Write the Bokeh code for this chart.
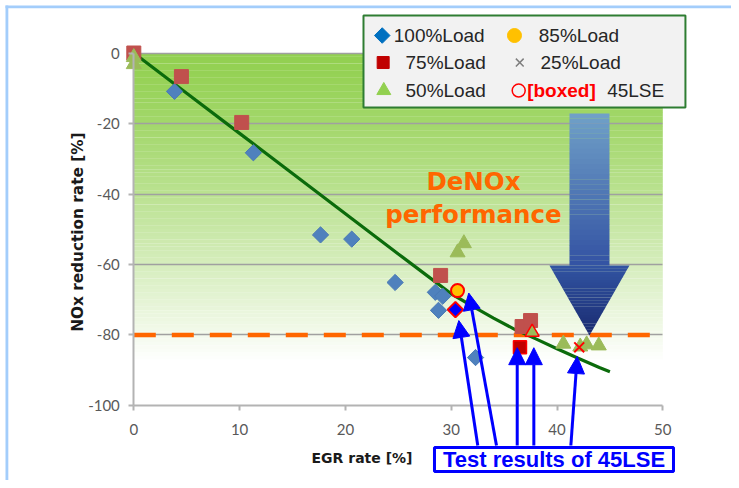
from bokeh.plotting import figure
from bokeh.models import Arrow, NormalHead, FixedTicker, ColumnDataSource, Range1d
from bokeh.core.properties import value
from bokeh.embed import file_html
from bokeh.resources import INLINE
import math

# ---------------- data ----------------
load100_x = [3.85, 11.3, 17.65, 20.6, 24.7, 28.5, 29.2, 28.8, 32.3]
load100_y = [-10.9, -28.3, -51.6, -52.8, -65.1, -67.9, -69.0, -73.0, -86.4]

load75_x = [0.0, 4.5, 10.2, 29.0, 36.7, 37.5]
load75_y = [0.0, -6.7, -19.7, -63.1, -77.6, -75.9]

load50_x = [0.0, 0.0, 31.2, 30.6, 40.6, 42.2, 42.8, 43.95]
load50_y = [-1.2, -3.2, -54.0, -56.6, -82.5, -83.3, -82.7, -83.0]

# 45LSE test results (highlighted)
lse100_x, lse100_y = [30.4], [-72.8]
lse85_x, lse85_y = [30.6], [-67.4]
lse75_x, lse75_y = [36.5], [-83.5]
lse50_x, lse50_y = [37.65], [-79.2]
lse25_x, lse25_y = [42.1], [-83.5]

trend_x = [0, 5, 10, 15, 20, 25, 28, 30, 32, 34, 36, 38, 40, 42, 44, 45]
trend_y = [0, -11.4, -22.8, -34.2, -45.6, -57.0, -63.8, -68.3, -71.8, -75.2,
           -78.4, -81.1, -83.9, -86.6, -89.2, -90.4]

target_level = -80
target_x = [0, 49]

x_ticks = [0, 10, 20, 30, 40, 50]
y_ticks = [0, -20, -40, -60, -80, -100]
x_tick_labels = {0: "0", 10: "10", 20: "20", 30: "30", 40: "40", 50: "50"}
y_tick_labels = {0: "0", -20: "-20", -40: "-40", -60: "-60", -80: "-80", -100: "-100"}

# arrows from the "Test results" box to the 45LSE points
arrow_x0 = [32.51, 34.28, 36.24, 37.81, 41.31]
arrow_y0 = [-111.35] * 5
arrow_x1 = [30.72, 31.66, 36.24, 37.81, 41.91]
arrow_y1 = [-75.9, -68.1, -83.6, -83.6, -86.1]

# ---------------- figure ----------------
# frame covers whole canvas; axes are placed at fixed data locations
X0, X1 = -12.599, 56.493
Y0, Y1 = -121.277, 14.894
p = figure(frame_width=731, frame_height=480,
           min_border_left=0, min_border_right=0,
           min_border_top=0, min_border_bottom=0,
           x_range=Range1d(X0, X1), y_range=Range1d(Y0, Y1),
           output_backend="svg", toolbar_location=None)
p.title.visible = False
p.outline_line_color = None
p.background_fill_color = "white"
p.border_fill_color = "white"

# light-blue page border (left and top)
p.quad(left=[-12.127], right=[-11.86], top=[13.475], bottom=[Y0],
       fill_color="#a3cdfb", line_color=None)
p.quad(left=[-12.127], right=[X1], top=[13.475], bottom=[12.70],
       fill_color="#a3cdfb", line_color=None)

# gradient background of plot area (0 .. 50, 0 .. -88 fading to white)
top_c = (146, 208, 80)
n_bands = 88
bl, br, bt, bb, bc = [], [], [], [], []
for i in range(n_bands):
    t = (i / (n_bands - 1)) ** 1.25
    c = tuple(int(round(top_c[k] + (255 - top_c[k]) * t)) for k in range(3))
    bl.append(0)
    br.append(50)
    bt.append(-i * 1.0 + (0.05 if i > 0 else 0))
    bb.append(-(i + 1) * 1.0)
    bc.append("#%02x%02x%02x" % c)
bg = p.quad(left=bl, right=br, top=bt, bottom=bb, fill_color=bc, line_color=None)
bg.level = "image"

# axes
p.xaxis.fixed_location = -100
p.yaxis.fixed_location = 0
p.xaxis.ticker = FixedTicker(ticks=x_ticks)
p.yaxis.ticker = FixedTicker(ticks=y_ticks)
p.xaxis.major_label_overrides = x_tick_labels
p.yaxis.major_label_overrides = y_tick_labels
p.xaxis.bounds = (0, 50)
p.yaxis.bounds = (-100, 0)
for ax in (p.xaxis, p.yaxis):
    ax.axis_line_color = "#b3b3b3"
    ax.axis_line_width = 2
    ax.major_tick_line_color = "#b3b3b3"
    ax.major_tick_line_width = 2
    ax.major_tick_out = 5
    ax.major_tick_in = 0
    ax.minor_tick_line_color = None
    ax.major_label_text_font = "Lato"
    ax.major_label_text_font_size = "15px"
    ax.major_label_text_color = "#595959"
p.xaxis.major_label_standoff = 14
p.yaxis.major_label_standoff = 9
p.xgrid.visible = False
p.ygrid.ticker = FixedTicker(ticks=y_ticks[:-1])
p.ygrid.bounds = (-100, 0)
p.ygrid.cross_bounds = (0, 50)
p.ygrid.grid_line_color = "#a0a0a0"
p.ygrid.grid_line_width = 1.5

# target line
p.line(target_x, [target_level, target_level], line_color="#ff6600",
       line_width=4.5, line_dash="22 16")

# gradient big arrow (DeNOx performance)
shaft_l, shaft_r, shaft_top, head_y = 41.18, 44.96, -17.16, -60.28
head_l, head_r, tip_x, tip_y = 39.29, 46.85, 43.07, -80.14
ns = 30
sl, sr, st, sb, sc = [], [], [], [], []
for i in range(ns):
    t = i / (ns - 1)
    c = (int(112 - 60 * t), int(160 - 76 * t), int(200 - 36 * t))
    y0 = shaft_top + (head_y - shaft_top) * i / ns
    y1 = shaft_top + (head_y - shaft_top) * (i + 1) / ns
    sl.append(shaft_l); sr.append(shaft_r)
    st.append(y0 + 0.05 if i > 0 else y0); sb.append(y1)
    sc.append("#%02x%02x%02x" % c)
p.quad(left=sl, right=sr, top=st, bottom=sb, fill_color=sc, line_color=None)
nh = 24
hx, hy, hc = [], [], []
for i in range(nh):
    f0 = i / nh
    f1 = (i + 1) / nh
    ya = head_y + (tip_y - head_y) * f0
    yb = head_y + (tip_y - head_y) * f1
    la = head_l + (tip_x - head_l) * f0
    ra = head_r + (tip_x - head_r) * f0
    lb = head_l + (tip_x - head_l) * f1
    rb = head_r + (tip_x - head_r) * f1
    off = 0.05 if i > 0 else 0
    hx.append([la, ra, rb, lb])
    hy.append([ya + off, ya + off, yb, yb])
    t = f0
    c = (int(50 - 25 * t), int(84 - 42 * t), int(162 - 50 * t))
    hc.append("#%02x%02x%02x" % c)
p.patches(hx, hy, fill_color=hc, line_color=None)

# trend line
p.line(trend_x, trend_y, line_color="#0b6b0b", line_width=3.2)

# series
p.scatter(load100_x, load100_y, marker="square", angle=math.pi / 4, size=11.5,
          fill_color="#4f81bd", line_color="#4a7ab5", line_width=1)
p.scatter(load75_x, load75_y, marker="square", size=14,
          fill_color="#c0504d", line_color="#c0504d")
p.scatter(load50_x, load50_y, marker="triangle", size=15,
          fill_color="#9bbb59", line_color="#9bbb59")

# 45LSE highlighted
p.scatter(lse100_x, lse100_y, marker="square", angle=math.pi / 4, size=11,
          fill_color="#0000ff", line_color="#ff0000", line_width=2)
p.scatter(lse85_x, lse85_y, marker="circle", size=13,
          fill_color="#ffc000", line_color="#ff0000", line_width=2)
p.scatter(lse75_x, lse75_y, marker="square", size=13,
          fill_color="#c00000", line_color="#ff0000", line_width=1.5)
p.scatter(lse50_x, lse50_y, marker="triangle", size=14,
          fill_color="#9bbb59", line_color="#ff0000", line_width=1.5)
p.scatter(lse25_x, lse25_y, marker="x", size=14,
          line_color="#ff0000", line_width=2)

# DeNOx text
for ty, tt in ((-36.5, "DeNOx"), (-45.8, "performance")):
    p.text([32.1], [ty], text=[tt], text_color="#ff6600",
           text_font=value("DejaVu Sans"), text_font_style="bold",
           text_font_size="24.5px", text_align="center", text_baseline="alphabetic")

# ---------------- legend (custom) ----------------
p.quad(left=[21.71], right=[52.14], top=[10.64], bottom=[-15.46],
       fill_color="#f2f2f2", line_color="#2e7d32", line_width=2)
row_y = [4.96, -2.70, -10.64]
lg_font = dict(text_font=value("Liberation Sans"), text_font_size="19px",
               text_color="#262626", text_baseline="middle", text_align="left")
p.scatter([23.48], [row_y[0]], marker="square", angle=math.pi / 4, size=11,
          fill_color="#0070c0", line_color="#0070c0")
p.text([24.57], [row_y[0]], text=["100%Load"], **lg_font)
p.scatter([23.57], [row_y[1]], marker="square", size=12,
          fill_color="#c00000", line_color="#c00000")
p.text([25.68], [row_y[1]], text=["75%Load"], **lg_font)
p.scatter([23.63], [row_y[2]], marker="triangle", size=14,
          fill_color="#92d050", line_color="#92d050")
p.text([25.68], [row_y[2]], text=["50%Load"], **lg_font)
p.scatter([35.98], [row_y[0]], marker="circle", size=14,
          fill_color="#ffc000", line_color="#ffc000")
p.text([38.28], [row_y[0]], text=["85%Load"], **lg_font)
p.scatter([36.48], [row_y[1]], marker="x", size=11,
          line_color="#7f7f7f", line_width=1.5)
p.text([38.44], [row_y[1]], text=["25%Load"], **lg_font)
p.scatter([36.38], [row_y[2]], marker="circle", size=13,
          fill_color=None, line_color="#ff0000", line_width=1.5)
p.text([37.18], [row_y[2]], text=["[boxed]"], text_font=value("Liberation Sans"),
       text_font_size="19px", text_font_style="bold", text_color="#ff0000",
       text_baseline="middle", text_align="left")
p.text([44.74], [row_y[2]], text=["45LSE"], **lg_font)

# ---------------- axis titles & annotations ----------------
p.text([21.8], [-115.0], text=["EGR rate  [%]"], text_align="center",
       text_baseline="middle", text_font=value("DejaVu Sans"), text_font_style="bold",
       text_font_size="14px", text_color="#1a1a1a")
p.text([-5.32], [-50.07], text=["NOx reduction rate  [%]"], angle=math.pi / 2,
       text_align="center", text_baseline="middle", text_font=value("DejaVu Sans"),
       text_font_style="bold", text_font_size="15.3px", text_color="#1a1a1a")

arrows = ColumnDataSource(dict(x0=arrow_x0, y0=arrow_y0, x1=arrow_x1, y1=arrow_y1))
p.add_layout(Arrow(source=arrows, x_start="x0", y_start="y0", x_end="x1", y_end="y1",
                   line_color="#0000ff", line_width=3,
                   end=NormalHead(size=17, fill_color="#0000ff", line_color="#0000ff")))

p.quad(left=[28.42], right=[51.01], top=[-111.91], bottom=[-118.72],
       fill_color="white", line_color="#0000ff", line_width=3)
p.text([39.72], [-115.3], text=["Test results of 45LSE"], text_align="center",
       text_baseline="middle", text_font=value("Liberation Sans"),
       text_font_style="bold", text_font_size="22px", text_color="#0000ff")

open("out.html", "w").write(file_html(p, INLINE))
